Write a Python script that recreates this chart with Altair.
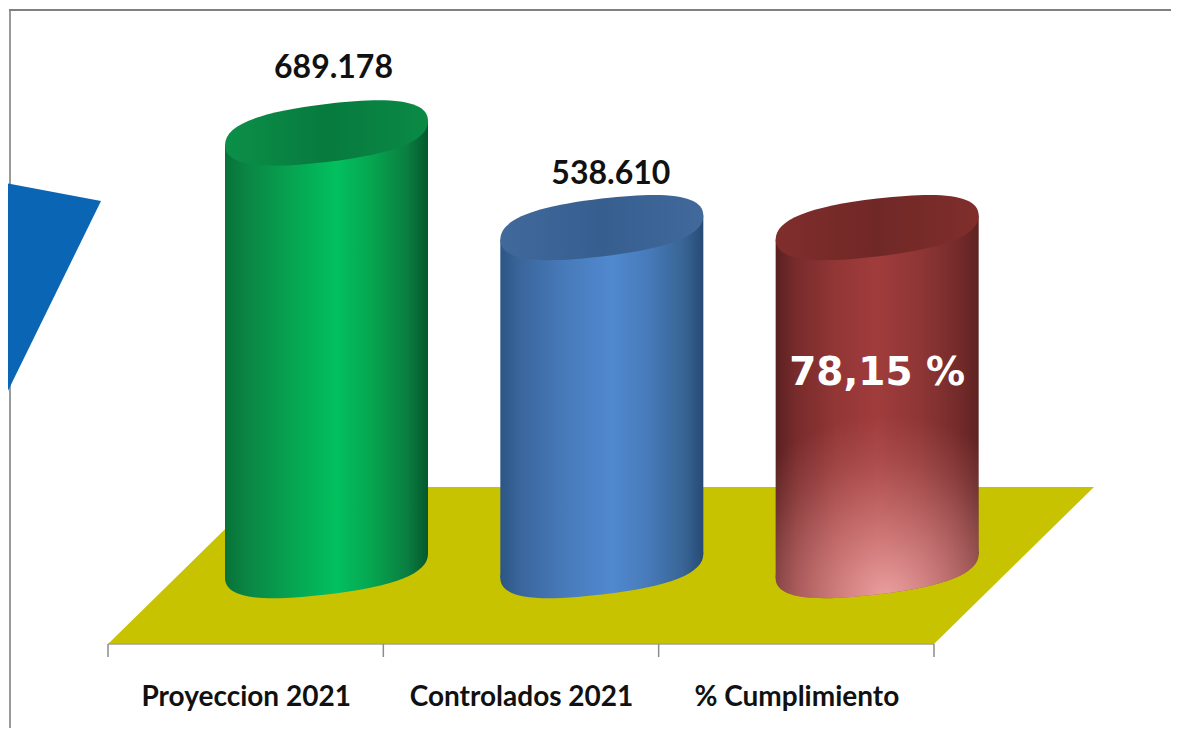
import altair as alt
import pandas as pd

# ---- values ----
categories = ["Proyeccion 2021", "Controlados 2021", "% Cumplimiento"]
bar_values = [689178, 538610, 538610]
bar_labels = ["689.178", "538.610", "78,15 %"]
label_lift_px = [65, 54, -145]
label_shift_px = [7, 9, 0]
band_edges = [0, 1, 2, 3]

# ---- scales: one band = 275.33 px, plot area spans page x 8..1171, y 8..644 ----
W, H = 1163, 636
BAND = 275.33
ZERO_PAGE_Y = 566
PX_PER_VALUE = (ZERO_PAGE_Y - 133) / 689178
def dy(px):
    return px / PX_PER_VALUE
x_scale = alt.Scale(domain=[(8 - 108) / BAND, (1171 - 108) / BAND], nice=False, zero=False)
y_scale = alt.Scale(domain=[dy(ZERO_PAGE_Y - 644), dy(ZERO_PAGE_Y - 8)], nice=False, zero=False)

DEPTH = 0.7936
HALF = 101.5 / BAND
TILT = 12
K = 0.68

def pt(x, y, b, s):
    return f"{x:.4f},{b * y - s * x:.4f}"

def ellipse_path(b, s, half=False):
    c = lambda x, y: pt(x, y, b, s)
    p = f"M{c(-1,0)}C{c(-1,K)} {c(-K,1)} {c(0,1)}C{c(K,1)} {c(1,K)} {c(1,0)}"
    if not half:
        p += f"C{c(1,-K)} {c(K,-1)} {c(0,-1)}C{c(-K,-1)} {c(-1,-K)} {c(-1,0)}"
    return p + "Z"

def foot_path(b, s, top):
    c = lambda x, y: pt(x, y, b, s)
    return (f"M-1,{top:.4f}L1,{top:.4f}L{c(1,0)}"
            f"C{c(1,K)} {c(K,1)} {c(0,1)}C{c(-K,1)} {c(-1,K)} {c(-1,0)}Z")

S = TILT / 101.5
TOP_SHAPE = ellipse_path(29 / 101.5, S)
BOTTOM_SHAPE = ellipse_path(28.5 / 101.5, S)
FOOT_SHAPE = foot_path(28.5 / 101.5, S, -(ZERO_PAGE_Y - 395) / 101.5)
SYMBOL_SIZE = 203 ** 2

def hgrad(stops):
    return alt.LinearGradient(gradient="linear", x1=0, x2=1, y1=0, y2=0,
                              stops=[alt.GradientStop(color=c, offset=o) for o, c in stops])

foot_fade = alt.RadialGradient(
    gradient="radial", x1=0.55, y1=1.0, r1=0, x2=0.55, y2=1.0, r2=0.9,
    stops=[alt.GradientStop(color=c, offset=o) for o, c in [
        (0, "rgba(255,185,185,0.8)"), (0.45, "rgba(250,170,170,0.42)"),
        (0.75, "rgba(245,160,160,0.16)"), (1, "rgba(240,150,150,0)")]])

side_stops = [
    [(0, "#087238"), (0.1, "#0a8443"), (0.3, "#07a050"), (0.55, "#02c05e"), (0.72, "#06a650"), (0.9, "#0a7d40"), (1, "#05582c")],
    [(0, "#2d5685"), (0.1, "#3a669c"), (0.3, "#4679b8"), (0.55, "#5189cf"), (0.72, "#477bbb"), (0.9, "#386595"), (1, "#274a75")],
    [(0, "#5a2020"), (0.1, "#782b2b"), (0.3, "#933636"), (0.5, "#a03c3c"), (0.72, "#8e3535"), (0.9, "#742b2a"), (1, "#5e2222")],
]
top_stops = [
    [(0, "#0b9048"), (0.5, "#077a3e"), (1, "#0a8a45")],
    [(0, "#41699b"), (0.5, "#365e8f"), (1, "#41699b")],
    [(0, "#802e2c"), (0.5, "#702826"), (1, "#802e2c")],
]

x_axis = alt.Axis(values=[0.5, 1.5, 2.5],
                  labelExpr="%s[floor(datum.value)]" % str(categories),
                  title=None, ticks=False, domain=False, grid=False,
                  labelFont="Lato", labelFontWeight="bold", labelLimit=400,
                  labelFontSize=28, labelColor="#111111", labelPadding=39,
                  labelOverlap=False, labelFlush=False, labelBound=False)
X = lambda: alt.X("x:Q", scale=x_scale, axis=x_axis)
Y = lambda: alt.Y("y:Q", scale=y_scale, axis=None)

layers = []

# frame
layers.append(alt.Chart(pd.DataFrame({"a": [0]})).mark_rule(color="#9a9a9a", strokeWidth=2)
              .encode(x=alt.value(2), y=alt.value(1), y2=alt.value(720)))
layers.append(alt.Chart(pd.DataFrame({"a": [0]})).mark_rule(color="#808080", strokeWidth=2)
              .encode(x=alt.value(1), x2=alt.value(1163), y=alt.value(2)))

# blue decoration
tri = pd.DataFrame({
    "x": [(0 - 108) / BAND, (101 - 108) / BAND],
    "y": [dy(ZERO_PAGE_Y - 182), dy(ZERO_PAGE_Y - 201)],
    "y2": [dy(ZERO_PAGE_Y - 407), dy(ZERO_PAGE_Y - 201)],
})
layers.append(alt.Chart(tri).mark_area(color="#0a65b4", orient="vertical")
              .encode(x=X(), y=Y(), y2="y2:Q"))

# floor
floor = pd.DataFrame({
    "y": [dy(ZERO_PAGE_Y - 644), dy(ZERO_PAGE_Y - 487)],
    "x": [0, (268 - 108) / BAND],
    "x2": [3, (1094 - 108) / BAND],
})
layers.append(alt.Chart(floor).mark_area(color="#c8c300", orient="horizontal")
              .encode(y=Y(), x=X(), x2="x2:Q"))

# axis line and ticks
axis_y = dy(ZERO_PAGE_Y - 644)
tick_y2 = dy(ZERO_PAGE_Y - 657)
layers.append(alt.Chart(pd.DataFrame({"x": [0], "x2": [3], "y": [axis_y]}))
              .mark_rule(color="#a6a28a", strokeWidth=1.5)
              .encode(x=X(), x2="x2:Q", y=Y()))
layers.append(alt.Chart(pd.DataFrame({"x": band_edges, "y": [axis_y] * 4, "y2": [tick_y2] * 4}))
              .mark_rule(color="#8c8c8c", strokeWidth=1.5)
              .encode(x=X(), y=Y(), y2="y2:Q"))

# cylinders
for i, v in enumerate(bar_values):
    c = i + DEPTH
    # lower rim
    rim = pd.DataFrame({"x": [c], "y": [0]})
    layers.append(alt.Chart(rim).mark_point(shape=BOTTOM_SHAPE, size=SYMBOL_SIZE, filled=True, opacity=1,
                                            fill=hgrad(side_stops[i]), strokeWidth=0)
                  .encode(x=X(), y=Y()))
    # side
    body = pd.DataFrame({
        "x": [c - HALF, c + HALF],
        "y": [v - dy(TILT), v + dy(TILT)],
        "y2": [-dy(TILT), dy(TILT)],
    })
    layers.append(alt.Chart(body).mark_area(fill=hgrad(side_stops[i]), orient="vertical")
                  .encode(x=X(), y=Y(), y2="y2:Q"))
    if i == 2:
        # fade towards pink at the foot of the third cylinder
        layers.append(alt.Chart(rim).mark_point(shape=FOOT_SHAPE, size=SYMBOL_SIZE, filled=True, opacity=1,
                                                strokeWidth=0, fill=foot_fade)
                      .encode(x=X(), y=Y()))
    # top
    top = pd.DataFrame({"x": [c], "y": [v]})
    layers.append(alt.Chart(top).mark_point(shape=TOP_SHAPE, size=SYMBOL_SIZE, filled=True, opacity=1,
                                            fill=hgrad(top_stops[i]), strokeWidth=0)
                  .encode(x=X(), y=Y()))

# value labels
for i, (v, t) in enumerate(zip(bar_values, bar_labels)):
    lab = pd.DataFrame({"x": [i + DEPTH + label_shift_px[i] / BAND],
                        "y": [v + dy(label_lift_px[i])], "t": [t]})
    if i < 2:
        m = alt.Chart(lab).mark_text(font="Lato", fontWeight="bold", fontSize=32,
                                     color="#111111", baseline="middle", align="center")
    else:
        m = alt.Chart(lab).mark_text(font="DejaVu Sans", fontWeight="bold", fontSize=39,
                                     color="#ffffff", baseline="middle", align="center")
    layers.append(m.encode(x=X(), y=Y(), text="t:N"))

chart = alt.layer(*layers).properties(
    width=W, height=H, background="white",
    padding={"left": 0, "top": 0, "right": 0, "bottom": 84},
    autosize=alt.AutoSizeParams(type="none"),
).configure_view(strokeWidth=0)

chart.save("out.html", embed_options={"renderer": "svg", "actions": False})
